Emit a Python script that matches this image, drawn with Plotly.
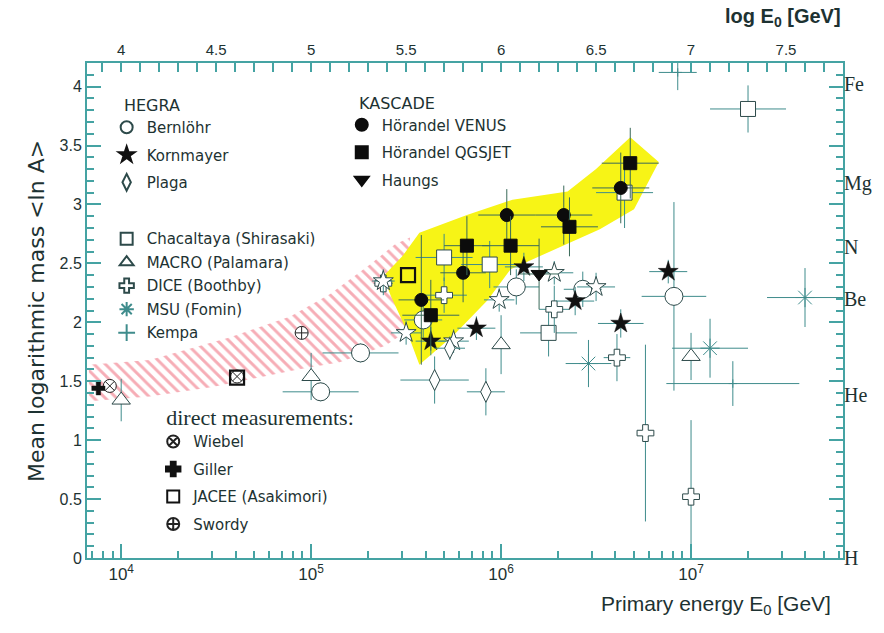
import numpy as np
import plotly.graph_objects as go

# Energies are given as log10(E0 / GeV); ordinates are <ln A>.
# dx = half width of the energy bin in decades, dy = error on <ln A>.

# ---- HEGRA ----
bern_logE = [5.05, 5.26, 5.59, 6.08, 6.43, 6.91]
bern_lnA = [1.41, 1.74, 2.02, 2.30, 2.28, 2.22]
bern_dx = [0.20, 0.20, 0.10, 0.12, 0.10, 0.17]
bern_dy = [0.08, 0.08, 0.15, 0.15, 0.15, 0.80]

korn_logE = [5.63, 5.87, 6.12, 6.39, 6.63, 6.88]
korn_lnA = [1.84, 1.95, 2.47, 2.18, 1.99, 2.43]
korn_dx = [0.08, 0.10, 0.10, 0.10, 0.12, 0.10]
korn_dy = [0.12, 0.10, 0.12, 0.12, 0.12, 0.10]

korn2_logE = [5.38, 5.50, 5.75, 5.99, 6.28, 6.50]
korn2_lnA = [2.35, 1.91, 1.84, 2.19, 2.42, 2.30]
korn2_dx = [0.06, 0.08, 0.08, 0.08, 0.10, 0.10]
korn2_dy = [0.10, 0.10, 0.10, 0.10, 0.10, 0.12]

plaga_logE = [5.65, 5.73, 5.92]
plaga_lnA = [1.51, 1.78, 1.41]
plaga_dx = [0.18, 0.08, 0.10]
plaga_dy = [0.20, 0.10, 0.20]

# ---- KASCADE ----
venus_logE = [5.58, 5.80, 6.03, 6.33, 6.63]
venus_lnA = [2.19, 2.42, 2.91, 2.91, 3.14]
venus_dx = [0.12, 0.12, 0.15, 0.15, 0.15]
venus_dy = [0.55, 0.25, 0.22, 0.25, 0.30]

qgs_logE = [5.63, 5.82, 6.05, 6.36, 6.68]
qgs_lnA = [2.06, 2.65, 2.65, 2.81, 3.35]
qgs_dx = [0.15, 0.12, 0.15, 0.15, 0.15]
qgs_dy = [0.30, 0.25, 0.25, 0.25, 0.30]

haungs_logE = [6.20]
haungs_lnA = [2.41]
haungs_dx = [0.10]
haungs_dy = [0.30]

# ---- other air-shower experiments ----
chac_logE = [5.70, 5.94, 6.25, 6.65, 7.30]
chac_lnA = [2.55, 2.49, 1.91, 3.10, 3.81]
chac_dx = [0.15, 0.15, 0.15, 0.15, 0.20]
chac_dy = [0.20, 0.20, 0.20, 0.30, 0.20]

macro_logE = [4.00, 5.00, 6.00, 7.00]
macro_lnA = [1.34, 1.54, 1.81, 1.71]
macro_dx = [0.0, 0.0, 0.0, 0.0]
macro_dy = [0.18, 0.20, 0.25, 0.20]

dice_logE = [5.38, 5.70, 6.28, 6.61, 6.76, 7.00]
dice_lnA = [2.33, 2.23, 2.11, 1.70, 1.06, 0.52]
dice_dx = [0.05, 0.12, 0.08, 0.07, 0.03, 0.03]
dice_dy = [0.10, 0.15, 0.20, 0.20, 0.75, 0.65]

msu_logE = [6.46, 7.10, 7.60]
msu_lnA = [1.65, 1.78, 2.21]
msu_dx = [0.12, 0.20, 0.20]
msu_dy = [0.20, 0.25, 0.25]

kempa_logE = [6.93, 7.22]
kempa_lnA = [4.12, 1.48]
kempa_dx = [0.10, 0.35]
kempa_dy = [0.15, 0.19]

# ---- direct measurements ----
wiebel_logE = [3.94, 4.61]
wiebel_lnA = [1.46, 1.54]
giller_logE = [3.88]
giller_lnA = [1.44]
jacee_logE = [4.61, 5.51]
jacee_lnA = [1.53, 2.40]
swordy_logE = [4.95]
swordy_lnA = [1.91]

# ---- allowed regions ----
kascade_band_logE = [5.57, 5.82, 6.06, 6.35, 6.50, 6.68, 6.83, 6.70, 6.52, 6.26,
                     6.05, 5.93, 5.75, 5.57, 5.50, 5.42, 5.38, 5.48]
kascade_band_lnA = [2.76, 2.91, 3.04, 3.11, 3.30, 3.57, 3.36, 2.96, 2.79, 2.60,
                    2.45, 2.19, 1.89, 1.64, 1.94, 2.22, 2.39, 2.56]

direct_band_logE = [3.83, 4.15, 4.57, 4.89, 5.10, 5.31, 5.44, 5.52,
                    5.52, 5.39, 5.15, 4.93, 4.48, 4.15, 3.83]
direct_band_lnA = [1.64, 1.68, 1.87, 2.05, 2.24, 2.49, 2.66, 2.72,
                   1.94, 1.80, 1.66, 1.60, 1.45, 1.37, 1.33]

# ---- axes ----
decades = [4, 5, 6, 7]
top_ticks = [4, 4.5, 5, 5.5, 6, 6.5, 7, 7.5]
elements = ["H", "He", "Be", "N", "Mg", "Fe"]
mass_numbers = [1, 4, 9, 14, 24, 56]

SANS = "Liberation Sans, Arial, sans-serif"
WIDE = "DejaVu Sans, Liberation Sans, sans-serif"
SERIF = "Liberation Serif, Times New Roman, serif"
TXT = "#1d3232"
AX = "#45a3a3"
BAR = "#3f8c8c"
EDGE = "#2d4a4a"
KBAR = "#3a6a5a"


def series(name, logE, lnA, dx, dy, symbol, size, legend, fill="white",
           edge=EDGE, lw=1.0, showlegend=True, bar=BAR):
    E = 10.0 ** np.asarray(logE, dtype=float)
    d = np.asarray(dx, dtype=float)
    return go.Scatter(
        x=E, y=lnA, mode="markers", name=name, legend=legend,
        legendgroup=name, showlegend=showlegend,
        marker=dict(symbol=symbol, size=size, color=fill,
                    line=dict(color=edge, width=lw)),
        error_x=dict(type="data", symmetric=False, array=E * (10 ** d - 1),
                     arrayminus=E * (1 - 10 ** -d), color=bar, thickness=1, width=0),
        error_y=dict(type="data", array=dy, color=bar, thickness=1, width=0),
    )


def plain(name, logE, lnA, symbol, size, legend, fill="white", edge="#222", lw=1.0):
    return go.Scatter(
        x=10.0 ** np.asarray(logE, dtype=float), y=lnA, mode="markers",
        name=name, legend=legend, legendgroup=name,
        marker=dict(symbol=symbol, size=size, color=fill, line=dict(color=edge, width=lw)),
    )


fig = go.Figure()

# direct-measurement range (hatched) and KASCADE range (yellow)
fig.add_trace(go.Scatter(
    x=10.0 ** np.asarray(direct_band_logE), y=direct_band_lnA, fill="toself",
    mode="lines", line=dict(width=0), fillcolor="rgba(0,0,0,0)",
    fillpattern=dict(shape="\\", fgcolor="#ee5c6e", bgcolor="rgba(0,0,0,0)",
                     size=8, solidity=0.36),
    showlegend=False, hoverinfo="skip"))
fig.add_trace(go.Scatter(
    x=10.0 ** np.asarray(kascade_band_logE), y=kascade_band_lnA, fill="toself",
    mode="lines", line=dict(width=0), fillcolor="#f7f416",
    showlegend=False, hoverinfo="skip"))

# air-shower data
fig.add_trace(series("Chacaltaya (Shirasaki)", chac_logE, chac_lnA, chac_dx, chac_dy,
                     "square", 15, "legend3"))
fig.add_trace(series("MACRO (Palamara)", macro_logE, macro_lnA, macro_dx, macro_dy,
                     "triangle-up", 16, "legend3"))
fig.add_trace(series("DICE (Boothby)", dice_logE, dice_lnA, dice_dx, dice_dy,
                     "cross", 14, "legend3"))
fig.add_trace(series("MSU (Fomin)", msu_logE, msu_lnA, msu_dx, msu_dy,
                     "asterisk-open", 16, "legend3", fill=BAR, edge=BAR, lw=1))
fig.add_trace(series("Kempa", kempa_logE, kempa_lnA, kempa_dx, kempa_dy,
                     "cross-thin-open", 6, "legend3", fill=BAR, edge=BAR, lw=1))

fig.add_trace(series("Bernlöhr", bern_logE, bern_lnA, bern_dx, bern_dy,
                     "circle", 18, "legend"))
fig.add_trace(series("Kornmayer (open)", korn2_logE, korn2_lnA, korn2_dx, korn2_dy,
                     "star", 15, "legend", showlegend=False))
fig.add_trace(series("Kornmayer", korn_logE, korn_lnA, korn_dx, korn_dy,
                     "star", 15, "legend", fill="#111", edge="#111", lw=0.5))
fig.add_trace(series("Plaga", plaga_logE, plaga_lnA, plaga_dx, plaga_dy,
                     "diamond-tall", 15, "legend"))

fig.add_trace(series("Hörandel VENUS", venus_logE, venus_lnA, venus_dx, venus_dy,
                     "circle", 13, "legend2", fill="#0c0c0c", edge="#0c0c0c", bar=KBAR))
fig.add_trace(series("Hörandel QGSJET", qgs_logE, qgs_lnA, qgs_dx, qgs_dy,
                     "square", 13, "legend2", fill="#0c0c0c", edge="#0c0c0c", bar=KBAR))
fig.add_trace(series("Haungs", haungs_logE, haungs_lnA, haungs_dx, haungs_dy,
                     "triangle-down", 14, "legend2", fill="#0c0c0c", edge="#0c0c0c", bar=KBAR))

# direct measurements
fig.add_trace(plain("Wiebel", wiebel_logE, wiebel_lnA, "circle-x", 13, "legend4"))
fig.add_trace(plain("Giller", giller_logE, giller_lnA, "cross", 11, "legend4",
                    fill="#111", edge="#111", lw=0.5))
fig.add_trace(plain("JACEE (Asakimori)", jacee_logE, jacee_lnA, "square-open", 14, "legend4",
                    fill="#111", edge="#111", lw=2.2))
fig.add_trace(plain("Swordy", swordy_logE, swordy_lnA, "circle-cross", 13, "legend4"))

# carrier for the secondary axes
fig.add_trace(go.Scatter(x=[], y=[], xaxis="x2", yaxis="y2", showlegend=False))

minor_E = [m * 10.0 ** d for d in range(3, 8) for m in range(2, 10)]

fig.update_layout(
    width=884, height=633,
    margin=dict(l=87, r=41, t=63, b=75),
    paper_bgcolor="white", plot_bgcolor="white",
    font=dict(family=SANS, color=TXT),
    xaxis=dict(
        type="log", range=[3.82, 7.8],
        tickvals=[10.0 ** d for d in decades],
        ticktext=[f"10<sup>{d}</sup>" for d in decades],
        ticks="inside", ticklen=14, tickwidth=1.5, tickcolor=AX,
        minor=dict(tickvals=minor_E, ticks="inside", ticklen=7, tickwidth=1.5, tickcolor=AX),
        showline=True, linecolor=AX, linewidth=2, showgrid=False, zeroline=False,
        tickfont=dict(family=SANS, size=17, color=TXT),
    ),
    xaxis2=dict(
        overlaying="x", side="top", range=[3.82, 7.8],
        tickvals=top_ticks, ticktext=[f"{t:g}" for t in top_ticks],
        ticks="inside", ticklen=9, tickwidth=1.5, tickcolor=AX,
        minor=dict(dtick=0.1, tick0=0, ticks="inside", ticklen=9, tickwidth=1.5, tickcolor=AX),
        showline=True, linecolor=AX, linewidth=2, showgrid=False, zeroline=False,
        tickfont=dict(family=SANS, size=15, color=TXT),
    ),
    yaxis=dict(
        range=[0, 4.2], tickvals=[i * 0.5 for i in range(9)],
        ticktext=[f"{i * 0.5:g}" for i in range(9)],
        ticks="inside", ticklen=14, tickwidth=1.5, tickcolor=AX,
        minor=dict(dtick=0.1, tick0=0, ticks="inside", ticklen=7, tickwidth=1.5, tickcolor=AX),
        mirror="allticks",
        showline=True, linecolor=AX, linewidth=2, showgrid=False, zeroline=False,
        tickfont=dict(family=SANS, size=16, color=TXT),
    ),
    yaxis2=dict(
        overlaying="y", side="right", range=[0, 4.2],
        tickvals=list(np.log(mass_numbers)), ticktext=elements,
        ticks="", showline=False, showgrid=False, zeroline=False,
        tickfont=dict(family=SERIF, size=20, color=TXT),
    ),
)

leg = dict(bgcolor="rgba(0,0,0,0)", borderwidth=0, itemsizing="constant",
           xanchor="left", yanchor="top",
           font=dict(family=WIDE, size=15, color=TXT))
pad3 = "&nbsp;&nbsp;&nbsp;"
fig.update_layout(
    legend=dict(x=0.026, y=0.945, tracegroupgap=5,
                title=dict(text=pad3 + "HEGRA", font=dict(family=WIDE, size=16)), **leg),
    legend2=dict(x=0.337, y=0.950, tracegroupgap=5,
                 title=dict(text=pad3 + "KASCADE", font=dict(family=WIDE, size=16)), **leg),
    legend3=dict(x=0.026, y=0.678, tracegroupgap=1, **leg),
    legend4=dict(x=0.0876, y=0.326, tracegroupgap=5,
                 title=dict(text="&nbsp;&nbsp;direct measurements:",
                            font=dict(family=SERIF, size=22)), **leg),
)

fig.add_annotation(text="Mean logarithmic mass &lt;ln A&gt;", xref="paper", yref="paper",
                   x=-0.086, y=0.5, textangle=-90, showarrow=False,
                   font=dict(family=WIDE, size=22, color=TXT))
fig.add_annotation(text="Primary energy E<sub>0</sub> [GeV]", xref="paper", yref="paper",
                   x=0.987, y=-0.095, xanchor="right", yanchor="middle", showarrow=False,
                   font=dict(family=SANS, size=21, color=TXT))
fig.add_annotation(text="<b>log E<sub>0</sub> [GeV]</b>", xref="paper", yref="paper",
                   x=1.0, y=1.091, xanchor="right", yanchor="middle", showarrow=False,
                   font=dict(family=SANS, size=20, color=TXT))

fig.write_html("out.html")
